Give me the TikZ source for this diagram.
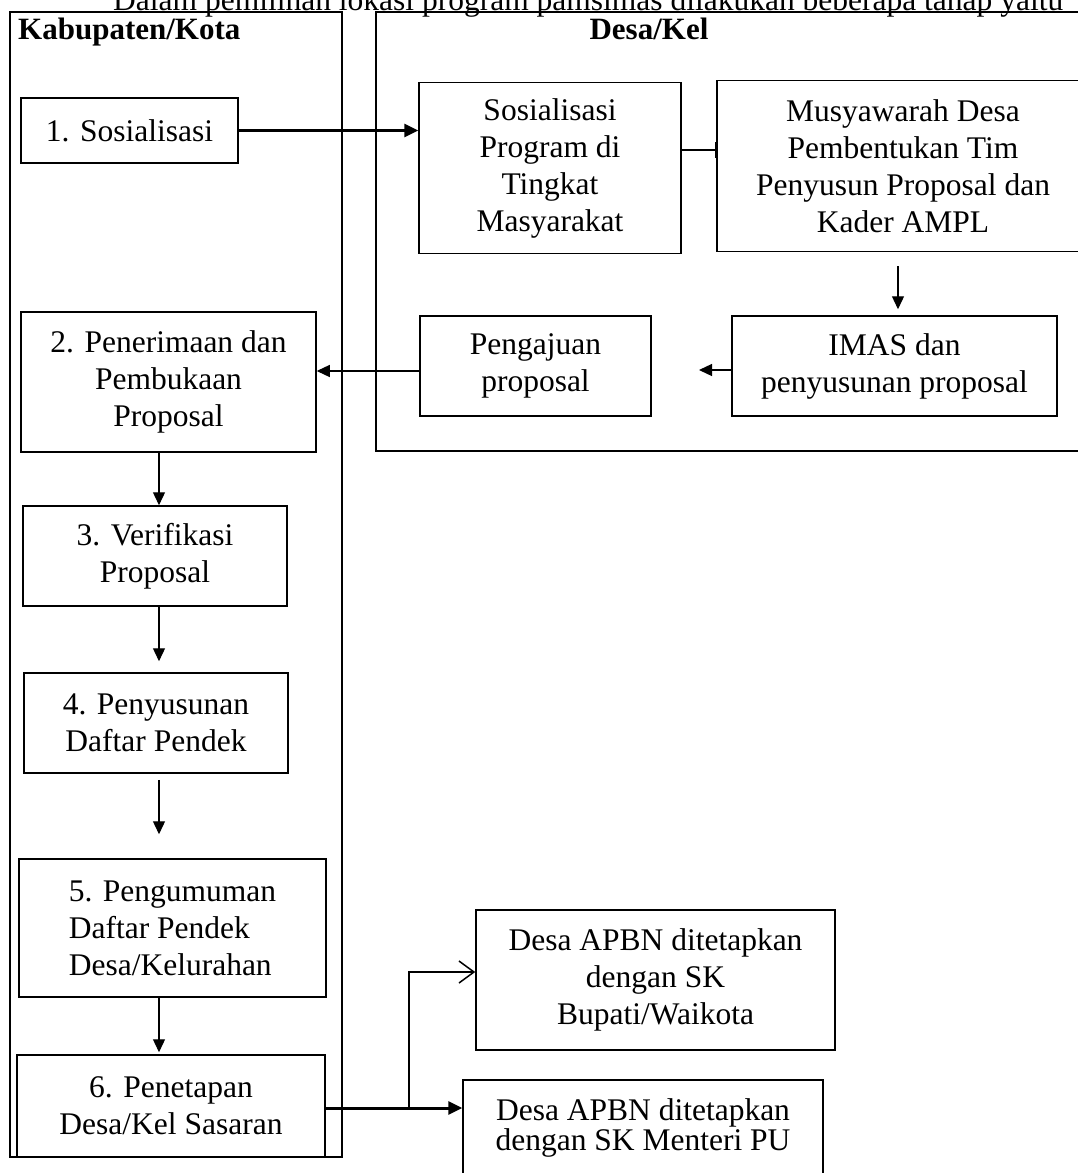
\documentclass[tikz,border=0pt]{standalone}
\usepackage{fontspec}
\setmainfont{Liberation Serif}
\usetikzlibrary{arrows.meta}
\begin{document}
\begin{tikzpicture}[x=1pt,y=-1pt,
  txt/.style={font=\fontsize{31.5}{37}\selectfont},
  hdr/.style={font=\bfseries\fontsize{31}{37}\selectfont},
  box/.style={draw, line width=1.5pt, inner sep=0pt, align=center, txt},
  panel/.style={draw, line width=1.5pt, inner sep=0pt},
  arr/.style={line width=1.3pt, -{Triangle[length=13pt,width=12pt]}},
  thickarr/.style={line width=3pt, -{Triangle[length=14pt,width=13pt]}},
  openarr/.style={line width=1.5pt, -{Straight Barb[length=15pt,width=22pt,line width=1.5pt]}},
  joinline/.style={line width=1.3pt, -{Bar[width=16pt]}}]
\useasboundingbox (0,0) rectangle (1078,1173);
\clip (0,0) rectangle (1078,1173);
\fill[white] (0,0) rectangle (1078,1173);

% intro text (cut at top)
\node[anchor=base west, txt, inner sep=0pt] (intro) at (113,10) {Dalam pemilihan lokasi program pamsimas dilakukan beberapa tahap yaitu};

% panels
\node[panel, minimum width=332pt, minimum height=1145pt] (kab) at (176,584.5) {};
\node[panel, minimum width=724pt, minimum height=439pt] (desa) at (738,231.5) {};
\node[anchor=base west, hdr, inner sep=0pt] (kabt) at (18,39) {Kabupaten/Kota};
\node[anchor=base, hdr, inner sep=0pt] (desat) at (649,39) {Desa/Kel};

% boxes
\node[box, minimum width=217pt, minimum height=65pt] (b1) at (129.5,130.5) {1. Sosialisasi};
\node[box, minimum width=262pt, minimum height=171pt] (sos) at (550,168) {Sosialisasi\\Program di\\Tingkat\\Masyarakat};
\node[box, minimum width=372pt, minimum height=171pt] (mus) at (903,166) {Musyawarah Desa\\Pembentukan Tim\\Penyusun Proposal dan\\Kader AMPL};
\node[box, minimum width=325pt, minimum height=100pt] (imas) at (894.5,366) {IMAS dan\\penyusunan proposal};
\node[box, minimum width=231pt, minimum height=100pt] (peng) at (535.5,366) {Pengajuan\\proposal};
\node[box, minimum width=295pt, minimum height=140pt] (b2) at (168.5,382) {2. Penerimaan dan\\Pembukaan\\Proposal};
\node[box, minimum width=264pt, minimum height=100pt] (b3) at (155,556) {3. Verifikasi\\Proposal};
\node[box, minimum width=264pt, minimum height=100pt] (b4) at (156,723) {4. Penyusunan\\Daftar Pendek};
\node[box, minimum width=307pt, minimum height=138pt, align=left] (b5) at (172.5,928) {5. Pengumuman\\Daftar Pendek\\Desa/Kelurahan};
\node[box, minimum width=308pt, minimum height=102pt] (b6) at (171,1106) {6. Penetapan\\Desa/Kel Sasaran};
\node[box, minimum width=359pt, minimum height=140pt] (bup) at (655.5,980) {Desa APBN ditetapkan\\dengan SK\\Bupati/Waikota};
\node[box, minimum width=360pt, minimum height=96pt] (men) at (643,1128) {Desa APBN ditetapkan\\[-7pt]dengan SK Menteri PU};

% connectors
\draw[thickarr] (b1.east) -- (b1.east -| sos.west);
\draw[joinline] ([yshift=18pt]sos.east) -- ([yshift=18pt]sos.east -| mus.west);
\draw[arr] ([xshift=-5pt,yshift=-14pt]mus.south) -- ([xshift=3.5pt,yshift=6pt]imas.north);
\coordinate (imasend) at (699,370);
\draw[arr] ([yshift=-4pt]imas.west) -- (imasend);
\draw[arr] ([yshift=-5pt]peng.west) -- ([yshift=-5pt]peng.west -| b2.east);
\draw[arr] ([xshift=-9.5pt]b2.south) -- ([xshift=4pt]b3.north);
\draw[arr] ([xshift=4pt]b3.south) -- ([xshift=3pt,yshift=11pt]b4.north);
\draw[arr] ([xshift=3pt,yshift=-6pt]b4.south) -- ([xshift=-13.5pt,yshift=24pt]b5.north);
\draw[arr] ([xshift=-13.5pt]b5.south) -- ([xshift=-12pt,yshift=2pt]b6.north);
\draw[thickarr] ([yshift=-2pt]b6.east) -- ([yshift=-2pt]b6.east -| men.west);
\coordinate (br) at (409,1108);
\draw[openarr] (br) |- ([yshift=8pt]bup.west);
\end{tikzpicture}
\end{document}
